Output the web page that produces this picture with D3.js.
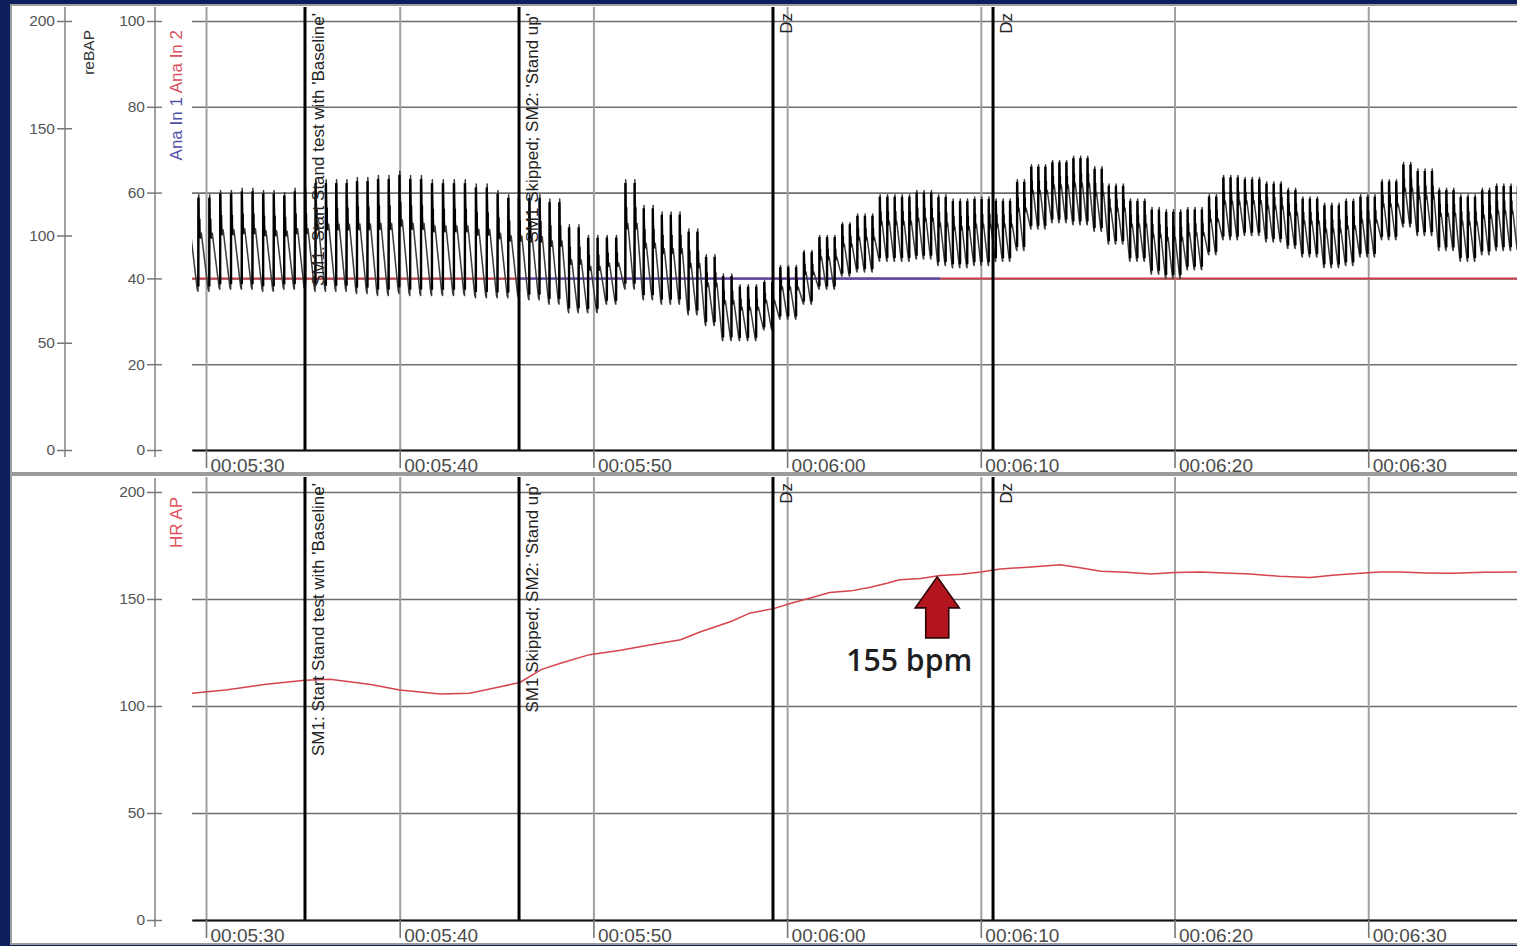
<!DOCTYPE html>
<html><head><meta charset="utf-8">
<script src="https://cdn.jsdelivr.net/npm/d3@7/dist/d3.min.js"></script>
<style>
html,body{margin:0;padding:0;background:#0c1f5c;overflow:hidden}
svg{display:block}
text{font-family:"Liberation Sans",Arial,sans-serif}
</style></head><body>
<svg id="c" width="1517" height="946"></svg>
<script>
// ---------- data ----------
const timeTicks = [330, 340, 350, 360, 370, 380, 390];
const timeTickLabels = ["00:05:30","00:05:40","00:05:50","00:06:00","00:06:10","00:06:20","00:06:30"];
const bpAxisTicks = [0, 50, 100, 150, 200];
const anaAxisTicks = [0, 20, 40, 60, 80, 100];
const hrAxisTicks = [0, 50, 100, 150, 200];
const markerTimes = [335.11, 346.16, 359.27, 370.63];
const markerLabels = ["SM1: Start Stand test with 'Baseline'", "SM1 Skipped; SM2: 'Stand up'", "Dz", "Dz"];

// reBAP envelope, one sample per second (seconds since recording start)
const bpSeconds = [329,330,331,332,333,334,335,336,337,338,339,340,341,342,343,344,345,346,347,348,349,350,351,352,353,354,355,356,357,358,359,360,361,362,363,364,365,366,367,368,369,370,371,372,373,374,375,376,377,378,379,380,381,382,383,384,385,386,387,388,389,390,391,392,393,394,395,396,397];
const bpSys = [120,119,121,122,121,120,122,126,126,127,
               128,130,128,126,126,124,121,119,119,117,
               105,100,100,126,114,111,103,91,82,77,
               79,86,93,100,106,110,119,119,121,119,
               117,118,117,126,133,135,137,132,124,117,
               113,112,113,119,128,127,125,122,118,115,
               117,119,126,134,131,122,119,122,124];
const bpDia = [75,74,75,75,74,75,75,74,74,73,
               72,73,72,72,72,71,71,71,70,68,
               64,64,68,75,70,68,63,58,51,51,
               56,61,68,75,81,83,88,88,89,86,
               85,86,88,93,103,106,105,102,96,88,
               82,80,84,91,98,100,97,94,90,85,
               86,90,98,104,100,93,88,91,93];

// HR AP (bpm)
const hrTimes = [329.28,331.0,333.0,335.1,336.4,338.5,340.0,342.1,343.6,345.2,346.2,347.3,348.3,349.8,351.4,352.9,354.5,355.5,357.1,358.1,359.3,360.2,361.2,362.2,363.3,364.3,365.2,365.8,366.9,367.9,369.0,370.0,371.0,372.6,374.1,375.2,376.2,377.5,378.8,380.0,381.3,382.6,383.9,385.4,387.0,388.3,389.6,390.6,391.7,393.0,394.3,396.0,397.7];
const hrValues = [106,107.5,110,112,112.5,110,107.5,105.6,106,109,111,117,120,124,126,128.5,131,134.6,139.5,143.5,145.5,148,150.5,153,153.8,155.5,157.5,159,159.6,161,161.6,162.6,164,165,166,164.5,163,162.5,161.7,162.4,162.6,162.2,161.7,160.6,160,161.2,162,162.6,162.6,162.2,162,162.5,162.6];

// Ana In channels
const anaIn2Times = [329.28, 397.68];
const anaIn2Values = [40, 40];
const anaIn1Times = [346.16, 367.9];
const anaIn1Values = [40, 40];

const annotTime = 367.75;
const annotLabel = "155 bpm";

// ---------- layout ----------
const svg = d3.select("#c");
const plotL = 192, plotR = 1517;
const x = d3.scaleLinear().domain([329.277, 397.68]).range([plotL, plotR]);
const P1 = {py:5, ph:468, y0:450, y1:21, gTop:7, aTop:7, aBot:457};
const P2 = {py:475, ph:469, y0:920, y1:492, gTop:477, aTop:478, aBot:927};
const yBP = d3.scaleLinear().domain([0,200]).range([P1.y0, P1.y1]);
const yAna = d3.scaleLinear().domain([0,100]).range([P1.y0, P1.y1]);
const yHR = d3.scaleLinear().domain([0,200]).range([P2.y0, P2.y1]);

svg.append("defs").append("clipPath").attr("id","clipTop")
  .append("rect").attr("x",plotL).attr("y",P1.py).attr("width",plotR-plotL).attr("height",P1.y0-P1.py);
svg.select("defs").append("clipPath").attr("id","clipBot")
  .append("rect").attr("x",plotL).attr("y",P2.py).attr("width",plotR-plotL).attr("height",P2.y0-P2.py);

[P1,P2].forEach(p=>{
  svg.append("rect").attr("x",11).attr("y",p.py).attr("width",1540).attr("height",p.ph)
    .attr("fill","#fff").attr("stroke","#9c9c9c").attr("stroke-width",2);
});

function grid(p, yScale, ticks){
  const gh = svg.append("g").attr("transform",`translate(${plotL},0)`)
    .call(d3.axisLeft(yScale).tickValues(ticks).tickSize(-(plotR-plotL)).tickFormat(""));
  gh.select(".domain").remove();
  gh.selectAll("line").attr("stroke","#6e6e6e").attr("stroke-width",1.6);
  const gv = svg.append("g").attr("transform",`translate(0,${p.y0})`)
    .call(d3.axisBottom(x).tickValues(timeTicks).tickSize(-(p.y0-p.gTop)).tickFormat(""));
  gv.select(".domain").remove();
  gv.selectAll("line").attr("stroke","#a0a0a0").attr("stroke-width",2);
}
function yAxis(xPos, p, yScale, ticks){
  const g = svg.append("g").attr("transform",`translate(${xPos},0)`);
  g.append("line").attr("x1",0).attr("x2",0).attr("y1",p.aTop).attr("y2",p.aBot)
    .attr("stroke","#8a8a8a").attr("stroke-width",1.6);
  const a = g.append("g").call(d3.axisLeft(yScale).tickValues(ticks).tickSize(8).tickPadding(2));
  a.select(".domain").remove();
  a.selectAll("line").attr("stroke","#777").attr("stroke-width",1.5);
  a.selectAll("text").attr("fill","#555").style("font-size","15.5px").style("font-family","Liberation Sans, Arial");
  const b = g.append("g").call(d3.axisRight(yScale).tickValues(ticks).tickSize(7).tickFormat(""));
  b.select(".domain").remove();
  b.selectAll("line").attr("stroke","#777").attr("stroke-width",1.5);
}
function timeAxis(p){
  const g = svg.append("g").attr("transform",`translate(0,${p.y0})`)
    .call(d3.axisBottom(x).tickValues(timeTicks).tickSize(18).tickSizeOuter(0)
      .tickFormat((d,i)=>timeTickLabels[i]));
  g.select(".domain").attr("stroke","#111").attr("stroke-width",2.2);
  g.selectAll(".tick line").attr("stroke","#777").attr("stroke-width",1.6);
  g.selectAll(".tick text").attr("text-anchor","start").attr("x",4).attr("y",9)
    .attr("fill","#4a4a4a").style("font-size","19px").style("font-family","Liberation Sans, Arial");
}
function markers(p){
  const g = svg.append("g");
  markerTimes.forEach((t,i)=>{
    g.append("line").attr("x1",x(t)).attr("x2",x(t)).attr("y1",p.gTop).attr("y2",p.y0)
      .attr("stroke","#000").attr("stroke-width",3);
    const cx = x(t)+13, cy = p.py+8;
    g.append("text").attr("transform",`translate(${cx},${cy}) rotate(-90)`)
      .attr("text-anchor","end").attr("dy","0.36em")
      .attr("fill","#222").style("font-size","17px").text(markerLabels[i]);
  });
}

// ---------- top panel ----------
grid(P1, yAna, anaAxisTicks);

const lineAna = d3.line().x(d=>x(d[0])).y(d=>yAna(d[1]));
const topG = svg.append("g").attr("clip-path","url(#clipTop)");
topG.append("path").datum(anaIn2Times.map((t,i)=>[t,anaIn2Values[i]])).attr("d",lineAna)
  .attr("fill","none").attr("stroke","#c8404c").attr("stroke-width",2);
topG.append("path").datum(anaIn1Times.map((t,i)=>[t,anaIn1Values[i]])).attr("d",lineAna)
  .attr("fill","none").attr("stroke","#4a4ab4").attr("stroke-width",2);

// beats placed from HR, amplitudes from per-second envelope
const hrAt = d3.scaleLinear().domain(hrTimes).range(hrValues).clamp(true);
const beats = [];
let tb = 329.02;
while (tb < 398.3) {
  const T = 60 / hrAt(tb);
  const i = d3.bisectCenter(bpSeconds, tb);
  beats.push({t: tb, T, S: bpSys[i], D: bpDia[i]});
  tb += T;
}
const pts = [];
beats.forEach((b,k)=>{
  const A = b.S - b.D;
  const Dn = k+1 < beats.length ? beats[k+1].D : b.D;
  pts.push([b.t, b.D],[b.t+0.07*b.T, b.S],[b.t+0.15*b.T, b.D+0.66*A],
           [b.t+0.23*b.T, b.D+0.55*A],[b.t+0.31*b.T, b.D+0.6*A],[b.t+0.93*b.T, Dn+0.02*A]);
});
const lineBP = d3.line().x(d=>x(d[0])).y(d=>yBP(d[1]));
topG.append("path").datum(pts).attr("d",lineBP).attr("fill","none")
  .attr("stroke","#3a3a3a").attr("stroke-width",1.5).attr("stroke-linejoin","round");
topG.selectAll("line.up").data(beats).join("line").attr("class","up")
  .attr("x1",d=>x(d.t+0.035*d.T)).attr("x2",d=>x(d.t+0.035*d.T))
  .attr("y1",d=>yBP(d.D+0.05*(d.S-d.D))).attr("y2",d=>yBP(d.S-0.03*(d.S-d.D)))
  .attr("stroke","#000").attr("stroke-width",2.4);
topG.selectAll("line.notch").data(beats).join("line").attr("class","notch")
  .attr("x1",d=>x(d.t+0.12*d.T)).attr("x2",d=>x(d.t+0.12*d.T))
  .attr("y1",d=>yBP(d.D+0.55*(d.S-d.D))).attr("y2",d=>yBP(d.D+0.75*(d.S-d.D)))
  .attr("stroke","#000").attr("stroke-width",2.4);

markers(P1);
timeAxis(P1);
yAxis(65, P1, yBP, bpAxisTicks);
yAxis(155, P1, yAna, anaAxisTicks);

svg.append("text").attr("transform","translate(88,30) rotate(-90)").attr("text-anchor","end")
  .attr("dy","0.36em").attr("fill","#333").style("font-size","15.5px").text("reBAP");
const anaLab = svg.append("text").attr("transform","translate(176,30) rotate(-90)").attr("text-anchor","end")
  .attr("dy","0.36em").style("font-size","17px");
anaLab.append("tspan").attr("fill","#5050a8").text("Ana In 1 ");
anaLab.append("tspan").attr("fill","#d8505c").text("Ana In 2");

// ---------- bottom panel ----------
grid(P2, yHR, hrAxisTicks);
const botG = svg.append("g").attr("clip-path","url(#clipBot)");
const lineHR = d3.line().x(d=>x(d[0])).y(d=>yHR(d[1]));
botG.append("path").datum(hrTimes.map((t,i)=>[t,hrValues[i]])).attr("d",lineHR)
  .attr("fill","none").attr("stroke","#d6434e").attr("stroke-width",1.5);

markers(P2);
timeAxis(P2);
yAxis(155, P2, yHR, hrAxisTicks);
svg.append("text").attr("transform","translate(176,497) rotate(-90)").attr("text-anchor","end")
  .attr("dy","0.36em").attr("fill","#e0505a").style("font-size","17px").text("HR AP");

// annotation arrow
const ax = x(annotTime), ay = yHR(hrAt(annotTime)) + 1;
const arrowPts = [[0,0],[22,31],[11.5,31],[11.5,61],[-11.5,61],[-11.5,31],[-22,31]];
svg.append("polygon").attr("points", arrowPts.map(p=>[ax+p[0], ay+p[1]].join(",")).join(" "))
  .attr("fill","#b3141e").attr("stroke","#2a0505").attr("stroke-width",1.6).attr("stroke-linejoin","miter");
svg.append("text").attr("x", ax-28).attr("y", ay+94).attr("text-anchor","middle")
  .attr("fill","#1e1e1e").style("font-family","Open Sans, Liberation Sans, sans-serif")
  .style("font-size","30px").style("font-weight","600").attr("textLength",126)
  .attr("lengthAdjust","spacingAndGlyphs").text(annotLabel);
</script>
</body></html>
